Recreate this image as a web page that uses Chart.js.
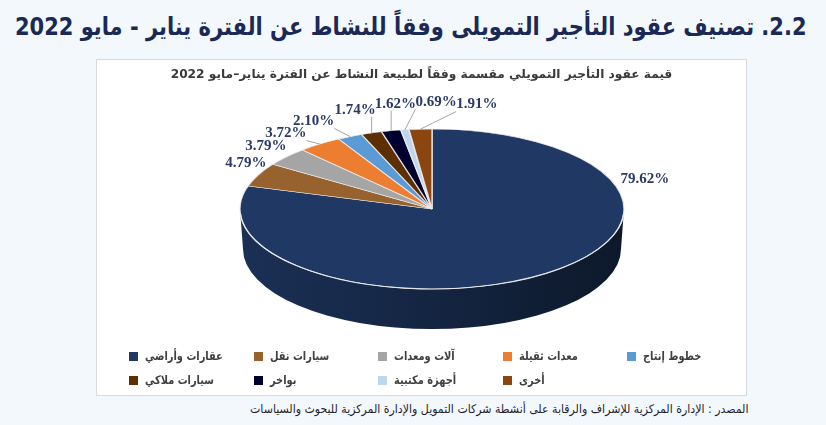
<!DOCTYPE html>
<html lang="ar">
<head>
<meta charset="utf-8">
<script src="https://cdn.jsdelivr.net/npm/chart.js@4.4.1/dist/chart.umd.min.js"></script>
<style>
  html, body { margin: 0; padding: 0; }
  body { width: 826px; height: 425px; background: #f3f8fc; position: relative; overflow: hidden; font-family: "DejaVu Sans", sans-serif; }
  #title { position: absolute; right: 19px; top: 12px; direction: rtl; font: bold 25px "DejaVu Sans"; color: #1b2a55; white-space: nowrap; }
  #box { position: absolute; left: 96px; top: 59px; width: 649px; height: 335px; background: #fff; border: 1px solid #d9d9d9; direction: rtl; }
  #chart { position: absolute; left: 0; top: 0; }
  .lg { position: absolute; display: flex; align-items: center; direction: ltr; font: bold 12px "DejaVu Sans"; color: #404040; white-space: nowrap; }
  .lg i { display: inline-block; width: 9px; height: 9px; margin-right: 7px; }
  .lg span { display: inline-block; direction: rtl; transform: scaleX(0.82); transform-origin: left center; }
  #source { position: absolute; right: 78px; top: 402px; direction: rtl; font: 12px "DejaVu Sans"; color: #1f1f2e; white-space: nowrap; }
</style>
</head>
<body>
<div id="title">2.2.  تصنيف عقود التأجير التمويلى وفقاً للنشاط عن الفترة  يناير - مايو 2022</div>
<div id="box">
  <canvas id="chart" width="649" height="335"></canvas>
  <div id="legend"></div>
</div>
<div id="source">المصدر : الإدارة المركزية للإشراف والرقابة على أنشطة شركات التمويل والإدارة المركزية للبحوث والسياسات</div>

<script>
const categories = ["عقارات وأراضي", "سيارات نقل", "آلات ومعدات", "معدات ثقيلة", "خطوط إنتاج",
                    "سيارات ملاكي", "بواخر", "أجهزة مكتبية", "أخرى"];
const shares = [79.62, 4.79, 3.79, 3.72, 2.10, 1.74, 1.62, 0.69, 1.91];
const colors = ["#1f3864", "#98622f", "#a5a5a5", "#ed7d31", "#5b9bd5",
                "#5e2f02", "#000030", "#bdd7ee", "#8b4510"];

const chartTitle = "قيمة عقود التأجير التمويلي مقسمة وفقاً لطبيعة النشاط عن الفترة يناير–مايو 2022";

// where the flattened pie sits inside the canvas (layout only)
const PIE_CX = 335, PIE_CY = 149, RX = 192, RY = 80, DEPTH = 40;
const LABEL_RX = RX + 14, LABEL_RY = RY + 27;
// the big slice's label sits on the right like in the source sheet
const labelOverride = { 0: { angle: -14.5, extra: 14 } };

// squeeze a text block horizontally to the width it has in the sheet
function fitWidth(el, target) {
  const w = el.scrollWidth;
  el.style.transformOrigin = 'right center';
  el.style.transform = `scaleX(${target / w})`;
}
fitWidth(document.getElementById('title'), 792);
fitWidth(document.getElementById('source'), 498);

function shade(hex, f) {
  const n = parseInt(hex.slice(1), 16);
  const r = Math.round(((n >> 16) & 255) * f);
  const g = Math.round(((n >> 8) & 255) * f);
  const b = Math.round((n & 255) * f);
  return `rgb(${r},${g},${b})`;
}

const pie3d = {
  id: 'pie3d',
  beforeDatasetsDraw(chart) {
    const ctx = chart.ctx;
    const arcs = chart.getDatasetMeta(0).data;

    // front wall: only the part of each slice between 0 and PI faces the viewer
    arcs.forEach((arc, i) => {
      const a1 = Math.max(arc.startAngle, 0);
      const a2 = Math.min(arc.endAngle, Math.PI);
      if (a2 <= a1) return;
      const grad = ctx.createLinearGradient(PIE_CX - RX, 0, PIE_CX + RX, 0);
      grad.addColorStop(0, shade(colors[i], 0.85));
      grad.addColorStop(0.5, shade(colors[i], 0.66));
      grad.addColorStop(1, shade(colors[i], 0.42));
      ctx.save();
      ctx.beginPath();
      ctx.ellipse(PIE_CX, PIE_CY, RX, RY, 0, a1, a2);
      ctx.lineTo(PIE_CX + (RX - 3) * Math.cos(a2), PIE_CY + DEPTH + RY * Math.sin(a2));
      ctx.ellipse(PIE_CX, PIE_CY + DEPTH, RX - 3, RY, 0, a2, a1, true);
      ctx.closePath();
      ctx.fillStyle = grad;
      ctx.fill();
      ctx.restore();
    });

    // squash Chart.js' round pie into the top ellipse
    const a0 = arcs[0];
    ctx.save();
    ctx.translate(PIE_CX, PIE_CY);
    ctx.scale(RX / a0.outerRadius, RY / a0.outerRadius);
    ctx.translate(-a0.x, -a0.y);
  },
  afterDatasetsDraw(chart) {
    const ctx = chart.ctx;
    ctx.restore();

    // light rim between top and side
    ctx.save();
    ctx.beginPath();
    ctx.ellipse(PIE_CX, PIE_CY, RX, RY, 0, 0.05, Math.PI - 0.05);
    ctx.strokeStyle = 'rgba(235,235,235,0.9)';
    ctx.lineWidth = 1.2;
    ctx.stroke();
    ctx.restore();

    drawLabels(chart);
  }
};

function drawLabels(chart) {
  const ctx = chart.ctx;
  const arcs = chart.getDatasetMeta(0).data;
  ctx.save();
  ctx.direction = 'ltr';
  ctx.font = 'bold 15px "Liberation Serif"';
  ctx.textAlign = 'center';
  ctx.textBaseline = 'middle';
  const H = 12;

  const items = arcs.map((arc, i) => {
    const ov = labelOverride[i];
    const phi = ov ? ov.angle * Math.PI / 180 : (arc.startAngle + arc.endAngle) / 2;
    const text = shares[i].toFixed(2) + '%';
    return { edge: phi, phi, extra: ov ? ov.extra : 0, fixed: !!ov, text, w: ctx.measureText(text).width };
  });
  const pos = it => ({
    x: PIE_CX + (LABEL_RX + it.extra) * Math.cos(it.phi),
    y: PIE_CY + (LABEL_RY + it.extra) * Math.sin(it.phi)
  });

  // spread crowded labels along the label ellipse
  const free = items.filter(it => !it.fixed).sort((a, b) => a.phi - b.phi);
  for (let iter = 0; iter < 800; iter++) {
    let moved = false;
    for (let k = 0; k < free.length - 1; k++) {
      const A = free[k], B = free[k + 1];
      const pa = pos(A), pb = pos(B);
      if (Math.abs(pa.x - pb.x) < (A.w + B.w) / 2 - 1 && Math.abs(pa.y - pb.y) < H) {
        A.phi -= 0.003;
        B.phi += 0.003;
        moved = true;
      }
    }
    if (!moved) break;
  }

  items.forEach(it => {
    const p = pos(it);
    const ex = PIE_CX + RX * Math.cos(it.edge), ey = PIE_CY + RY * Math.sin(it.edge);
    const ax = Math.min(Math.max(ex, p.x - it.w / 2), p.x + it.w / 2);
    const ay = Math.min(Math.max(ey, p.y - 7), p.y + 7);
    if (Math.hypot(ax - ex, ay - ey) > 7) {
      ctx.beginPath();
      ctx.moveTo(ex, ey);
      ctx.lineTo(ax, ay);
      ctx.strokeStyle = '#a6a6a6';
      ctx.lineWidth = 1;
      ctx.stroke();
    }
    ctx.fillStyle = '#2a3a64';
    ctx.fillText(it.text, p.x, p.y);
  });
  ctx.restore();
}

new Chart(document.getElementById('chart'), {
  type: 'pie',
  data: {
    labels: categories,
    datasets: [{
      data: shares,
      backgroundColor: colors,
      borderColor: 'rgba(240,240,240,0.85)',
      borderWidth: 1,
      clip: false
    }]
  },
  options: {
    responsive: false,
    animation: false,
    events: [],
    layout: { padding: { top: 0, bottom: 40, left: 40, right: 40 } },
    plugins: {
      legend: { display: false },
      tooltip: { enabled: false },
      title: {
        display: true,
        text: chartTitle,
        color: '#3a3a3a',
        font: { family: 'DejaVu Sans', size: 12.2, weight: 'bold' },
        padding: { top: 8, bottom: 4 }
      }
    }
  },
  plugins: [pie3d]
});

// legend laid out in the sheet's grid (5 columns, left to right)
const legend = document.getElementById('legend');
categories.forEach((name, i) => {
  const el = document.createElement('div');
  el.className = 'lg';
  el.style.left = (32 + (i % 5) * 124.5) + 'px';
  el.style.top = (i < 5 ? 289 : 313) + 'px';
  el.innerHTML = `<i style="background:${colors[i]}"></i><span>${name}</span>`;
  legend.appendChild(el);
});
</script>
</body>
</html>
